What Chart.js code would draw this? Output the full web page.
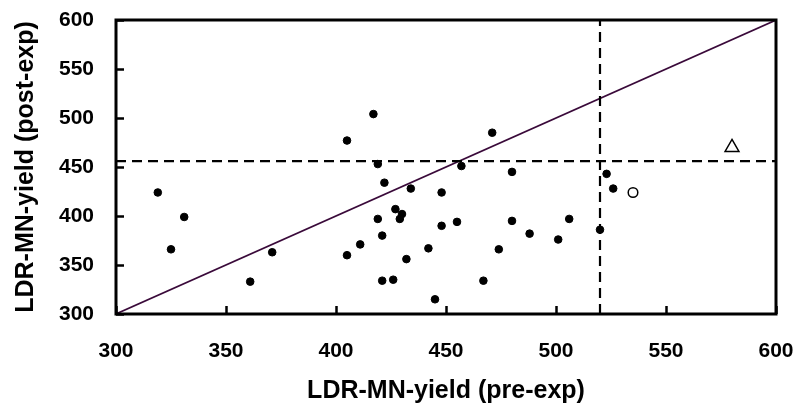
<!DOCTYPE html>
<html>
<head>
<meta charset="utf-8">
<script src="https://cdn.jsdelivr.net/npm/chart.js@4"></script>
<style>
  html, body { margin: 0; padding: 0; background: #ffffff; }
  #wrap { width: 797px; height: 409px; }
</style>
</head>
<body>
<div id="wrap"><canvas id="c" width="797" height="409"></canvas></div>
<script>
// ---- Data ----
const preExp  = [319, 331, 325, 371, 361, 405, 405, 417, 419, 422, 434, 448, 457, 471, 480,
                 427, 430, 429, 419, 421, 411, 442, 432, 448, 455, 421, 426, 445, 467, 480,
                 474, 488, 501, 506, 520, 523, 526];
const postExp = [424, 399, 366, 363, 333, 477, 360, 504, 453, 434, 428, 424, 451, 485, 445,
                 407, 402, 397, 397, 380, 371, 367, 356, 390, 394, 334, 335, 315, 334, 395,
                 366, 382, 376, 397, 386, 443, 428];
const openCircle = [{ x: 535, y: 424 }];
const openTriangle = [{ x: 580, y: 470 }];
const thresholdPre = 520;   // vertical dashed line
const thresholdPost = 456;  // horizontal dashed line
const axisMin = 300;
const axisMax = 600;
const tickStep = 50;

const FONT = "'Liberation Sans', Arial, sans-serif";

const framePlugin = {
  id: 'frame',
  afterDatasetsDraw(chart) {
    const { ctx, chartArea: a, scales: { x, y } } = chart;
    ctx.save();
    ctx.strokeStyle = '#000';
    ctx.lineWidth = 2.5;
    ctx.lineCap = 'butt';
    const len = 8;
    ctx.beginPath();
    x.ticks.forEach(t => {
      const px = Math.round(x.getPixelForValue(t.value)) + 0.5;
      ctx.moveTo(px, a.bottom);
      ctx.lineTo(px, a.bottom - len);
    });
    y.ticks.forEach(t => {
      const py = Math.round(y.getPixelForValue(t.value)) + 0.5;
      ctx.moveTo(a.left, py);
      ctx.lineTo(a.left + len, py);
    });
    ctx.stroke();
    ctx.lineWidth = 3;
    ctx.strokeRect(a.left, a.top, a.right - a.left, a.bottom - a.top);
    ctx.restore();
  }
};

new Chart(document.getElementById('c'), {
  type: 'scatter',
  data: {
    datasets: [
      {
        label: 'diagonal',
        type: 'line',
        data: [{ x: axisMin, y: axisMin }, { x: axisMax, y: axisMax }],
        borderColor: '#3a0a3a',
        borderWidth: 1.6,
        pointRadius: 0,
        fill: false,
        order: 5
      },
      {
        label: 'post threshold',
        type: 'line',
        data: [{ x: axisMin, y: thresholdPost }, { x: axisMax, y: thresholdPost }],
        borderColor: '#000',
        borderWidth: 2.2,
        borderDash: [10, 6],
        pointRadius: 0,
        fill: false,
        order: 4
      },
      {
        label: 'pre threshold',
        type: 'line',
        data: [{ x: thresholdPre, y: axisMin }, { x: thresholdPre, y: axisMax }],
        borderColor: '#000',
        borderWidth: 2.2,
        borderDash: [10, 6],
        pointRadius: 0,
        fill: false,
        order: 4
      },
      {
        label: 'subjects',
        data: preExp.map((v, i) => ({ x: v, y: postExp[i] })),
        backgroundColor: '#000',
        borderColor: '#000',
        borderWidth: 1,
        pointRadius: 3.8,
        order: 1
      },
      {
        label: 'circle',
        data: openCircle,
        backgroundColor: '#fff',
        borderColor: '#000',
        borderWidth: 1.5,
        pointRadius: 4.8,
        order: 1
      },
      {
        label: 'triangle',
        data: openTriangle,
        pointStyle: 'triangle',
        backgroundColor: '#fff',
        borderColor: '#000',
        borderWidth: 1.5,
        pointRadius: 8,
        order: 1
      }
    ]
  },
  options: {
    responsive: false,
    animation: false,
    events: [],
    layout: { padding: { top: 20, right: 21, left: 0, bottom: 0 } },
    plugins: {
      legend: { display: false },
      tooltip: { enabled: false }
    },
    scales: {
      x: {
        type: 'linear',
        min: axisMin,
        max: axisMax,
        afterFit(s) { s.height = 95; s.paddingLeft = 0; s.paddingRight = 0; },
        border: { display: false },
        grid: { display: false, drawTicks: false },
        ticks: {
          stepSize: tickStep,
          padding: 25,
          color: '#000',
          font: { family: FONT, size: 21, weight: 'bold' }
        },
        title: {
          display: true,
          text: 'LDR-MN-yield (pre-exp)',
          color: '#000',
          font: { family: FONT, size: 25, weight: 'bold' },
          padding: { top: 0, bottom: 3 }
        }
      },
      y: {
        type: 'linear',
        min: axisMin,
        max: axisMax,
        afterFit(s) { s.width = 116; s.paddingTop = 0; s.paddingBottom = 0; },
        border: { display: false },
        grid: { display: false, drawTicks: false },
        ticks: {
          stepSize: tickStep,
          padding: 22,
          color: '#000',
          font: { family: FONT, size: 21, weight: 'bold' }
        },
        title: {
          display: true,
          text: 'LDR-MN-yield (post-exp)',
          color: '#000',
          font: { family: FONT, size: 25, weight: 'bold' },
          padding: { top: 11, bottom: 0 }
        }
      }
    }
  },
  plugins: [framePlugin]
});
</script>
</body>
</html>
